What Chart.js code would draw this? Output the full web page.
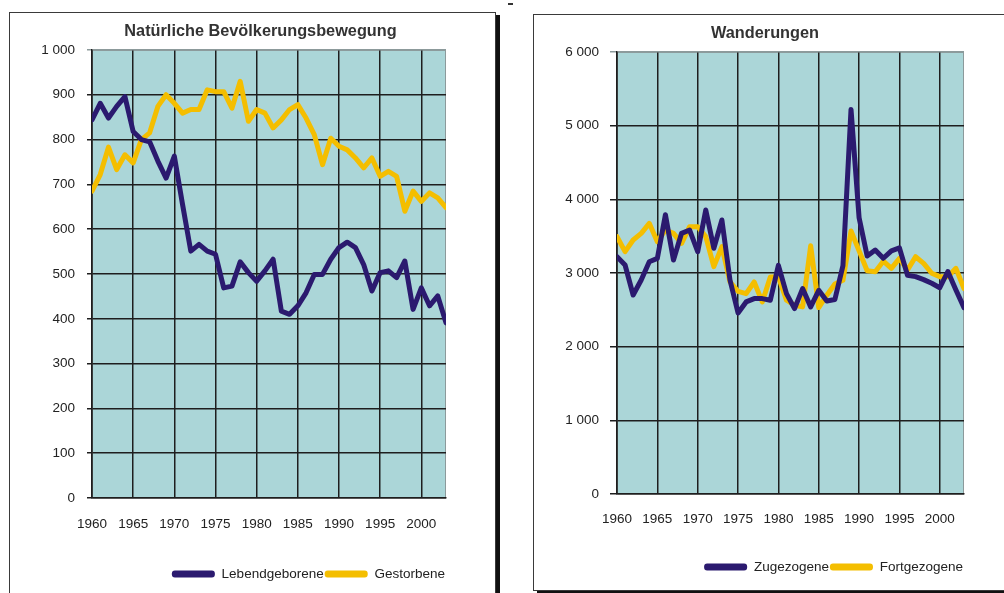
<!DOCTYPE html>
<html>
<head>
<meta charset="utf-8">
<script src="https://cdn.jsdelivr.net/npm/chart.js@4.4.1/dist/chart.umd.min.js"></script>
<style>
  html, body { margin: 0; padding: 0; background: #fff; width: 1004px; height: 593px; overflow: hidden; position: relative; }
  .frame { position: absolute; background: #fff; border: 1px solid #3a3a3a; box-shadow: 4px 3px 0 #111; }
  #frameA { left: 9px; top: 12px; width: 485px; height: 640px; }
  #frameB { left: 533px; top: 14px; width: 540px; height: 575px; }
  canvas { position: absolute; }
  #chartA { left: 10px; top: 13px; }
  #chartB { left: 534px; top: 15px; }
  #mark { position: absolute; left: 508px; top: 3px; width: 5px; height: 2px; background: #333; }
</style>
</head>
<body>
<div class="frame" id="frameA"></div>
<div class="frame" id="frameB"></div>
<div id="mark"></div>
<canvas id="chartA" width="484" height="580"></canvas>
<canvas id="chartB" width="470" height="575"></canvas>
<script>
// Jahre 1960–2003
const years = [1960,1961,1962,1963,1964,1965,1966,1967,1968,1969,
               1970,1971,1972,1973,1974,1975,1976,1977,1978,1979,
               1980,1981,1982,1983,1984,1985,1986,1987,1988,1989,
               1990,1991,1992,1993,1994,1995,1996,1997,1998,1999,
               2000,2001,2002,2003];
const yearTicks = [1960,1965,1970,1975,1980,1985,1990,1995,2000];

// Natürliche Bevölkerungsbewegung
const lebendgeborene = [844,881,848,874,896,818,800,795,752,714,
                        763,655,551,566,551,544,469,473,527,503,
                        484,507,533,417,410,429,458,499,499,533,
                        559,571,559,521,462,503,507,492,529,421,
                        469,429,451,391];
const gestorbene = [685,722,783,733,766,748,800,815,874,900,
                    881,859,867,867,911,907,907,870,930,841,
                    867,859,826,844,867,878,848,811,744,803,
                    785,777,759,737,759,718,729,718,640,685,
                    662,681,670,648];
const ticksNatuerlich = [0,100,200,300,400,500,600,700,800,900,1000];

// Wanderungen
const zugezogene = [3221,3108,2701,2905,3153,3198,3790,3176,3538,3583,
                    3289,3855,3335,3719,2905,2457,2607,2652,2652,2630,
                    3104,2720,2517,2788,2540,2765,2620,2640,3100,5220,
                    3750,3230,3312,3200,3300,3340,2970,2950,2910,2860,
                    2800,3020,2770,2530];
const fortgezogene = [3493,3289,3448,3538,3674,3425,3583,3538,3402,3629,
                      3629,3493,3086,3357,2880,2750,2720,2878,2607,2946,
                      2946,2630,2562,2540,3370,2530,2698,2850,2900,3570,
                      3300,3030,3018,3160,3063,3199,3040,3221,3131,2996,
                      2950,2950,3063,2790];
const ticksWanderung = [0,1000,2000,3000,4000,5000,6000];

const NAVY = '#2b1a6f';
const GOLD = '#f4be00';
const PLOT_BG = '#abd6d8';
const GRID = '#1e1e1e';
const TEXT = '#222';
const FONT = "'Liberation Sans', Arial, sans-serif";

// Tausendertrennung mit Leerzeichen: 1 000, 6 000
const fmt = v => String(v).replace(/\B(?=(\d{3})+(?!\d))/g, ' ');

// fills the plot area and outlines it before the grid is drawn
const plotBackground = {
  id: 'plotBackground',
  beforeDraw(chart) {
    const { ctx, chartArea: a } = chart;
    ctx.save();
    ctx.fillStyle = PLOT_BG;
    ctx.fillRect(a.left, a.top, a.width, a.height);
    ctx.strokeStyle = '#8c9a9b';
    ctx.lineWidth = 1;
    ctx.strokeRect(a.left + 0.5, a.top + 0.5, a.width - 1, a.height - 1);
    ctx.restore();
  }
};

function series(values, label, color) {
  return {
    label,
    data: values.map((v, i) => ({ x: years[i], y: v })),
    borderColor: color,
    backgroundColor: color,
    borderWidth: 5,
    borderJoinStyle: 'round',
    borderCapStyle: 'round',
    pointRadius: 0,
    tension: 0
  };
}

function buildChart(id, g) {
  return new Chart(document.getElementById(id), {
    type: 'line',
    data: { datasets: [series(g.a, g.labelA, NAVY), series(g.b, g.labelB, GOLD)] },
    plugins: [plotBackground],
    options: {
      responsive: false,
      animation: false,
      events: [],
      layout: { padding: { left: g.padLeft, right: g.padRight, top: 0, bottom: g.padBottom } },
      plugins: {
        tooltip: { enabled: false },
        title: {
          display: true,
          text: g.title,
          color: '#333',
          font: { family: FONT, size: 16.3, weight: 'bold', lineHeight: 1.2 },
          padding: { top: g.titleTop, bottom: g.titleBottom }
        },
        legend: {
          position: 'bottom',
          align: 'end',
          fullSize: false,
          labels: {
            color: TEXT,
            font: { family: FONT, size: 13.5 },
            boxWidth: 43,
            boxHeight: 7,
            padding: 1,
            useBorderRadius: true,
            borderRadius: 3,
            generateLabels: chart => chart.data.datasets.map((d, i) => ({
              text: d.label,
              fillStyle: d.borderColor,
              strokeStyle: d.borderColor,
              lineWidth: 0,
              fontColor: TEXT,
              hidden: false,
              datasetIndex: i,
              borderRadius: 3
            }))
          }
        }
      },
      scales: {
        x: {
          type: 'linear',
          min: 1960,
          max: 2003,
          afterBuildTicks: s => { s.ticks = yearTicks.map(v => ({ value: v })); },
          afterFit: s => { s.height = g.xHeight; },
          grid: { color: GRID, lineWidth: 1.5, drawTicks: false },
          border: { color: GRID, width: 1.5 },
          ticks: {
            color: TEXT,
            padding: g.xPad,
            maxRotation: 0,
            autoSkip: false,
            font: { family: FONT, size: 13.5 },
            callback: v => String(v)
          }
        },
        y: {
          min: 0,
          max: g.yMax,
          afterBuildTicks: s => { s.ticks = g.yTicks.map(v => ({ value: v })); },
          afterFit: s => { s.width = g.yWidth; },
          grid: {
            color: c => (c.tick && c.tick.value === g.yMax ? '#8c9a9b' : GRID),
            lineWidth: 1.5,
            drawTicks: true,
            tickLength: g.tickLen
          },
          border: { color: GRID, width: 1.5 },
          ticks: {
            color: TEXT,
            padding: g.yPad,
            font: { family: FONT, size: 13.5 },
            callback: v => fmt(v)
          }
        },
        // empty column right of the plot, so the title sits where it should
        spacer: {
          type: 'linear',
          position: 'right',
          display: true,
          grid: { display: false },
          border: { display: false },
          ticks: { display: false },
          afterFit: s => { s.width = g.spacer; }
        }
      }
    }
  });
}

buildChart('chartA', {
  title: 'Natürliche Bevölkerungsbewegung',
  a: lebendgeborene, labelA: 'Lebendgeborene',
  b: gestorbene, labelB: 'Gestorbene',
  yMax: 1000, yTicks: ticksNatuerlich,
  padLeft: 29, padRight: 12, padBottom: 2.25,
  yWidth: 53, spacer: 36, xHeight: 68.25, xPad: 18,
  tickLen: 5, yPad: 12,
  titleTop: 8.5, titleBottom: 8.9
});

buildChart('chartB', {
  title: 'Wanderungen',
  a: zugezogene, labelA: 'Zugezogene',
  b: fortgezogene, labelB: 'Fortgezogene',
  yMax: 6000, yTicks: ticksWanderung,
  padLeft: 29, padRight: 37, padBottom: 6.25,
  yWidth: 54, spacer: 3, xHeight: 65.25, xPad: 17,
  tickLen: 7, yPad: 11,
  titleTop: 8.5, titleBottom: 8.9
});
</script>
</body>
</html>
